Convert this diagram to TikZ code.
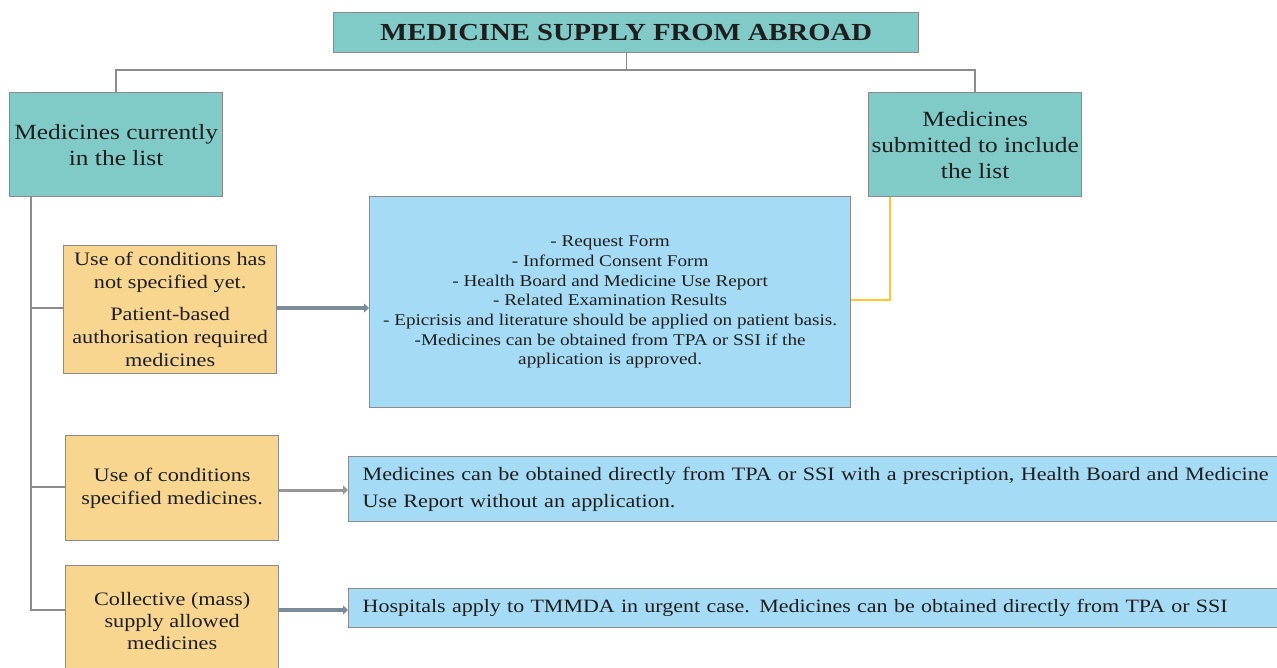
\documentclass[tikz,border=0pt]{standalone}
\usepackage{fontspec}
\setmainfont{Liberation Serif}[FakeStretch=1.17]
\usetikzlibrary{arrows.meta}
\definecolor{teal1}{HTML}{80CBC8}
\definecolor{yel1}{HTML}{F8D690}
\definecolor{blu1}{HTML}{A5DBF5}
\definecolor{edge1}{HTML}{8C8C8C}
\definecolor{arr1}{HTML}{7A8C99}
\definecolor{gold1}{HTML}{FFC72C}
\definecolor{txt1}{HTML}{1E1E1E}
\begin{document}
\begin{tikzpicture}[x=1pt,y=-1pt,
  box/.style={draw=edge1,line width=1.3pt,anchor=north west,inner sep=0pt,align=center,text=txt1},
  tealbox/.style={box,fill=teal1},
  yelbox/.style={box,fill=yel1},
  blubox/.style={box,fill=blu1},
  conn/.style={draw=edge1,line width=1.3pt},
  arrw/.style={draw=arr1,line width=3.5pt,-{Triangle[length=5pt,width=9pt]}}]
\useasboundingbox (0,0) rectangle (1277,668);
% title
\node[tealbox,minimum width=585pt,minimum height=40pt,font=\fontsize{24.5}{30}\selectfont\bfseries] (title) at (333,12) {MEDICINE SUPPLY FROM ABROAD};
\node[tealbox,minimum width=213pt,minimum height=104pt,font=\fontsize{21.7}{26}\selectfont] (cur) at (9,92) {Medicines currently\\in the list};
\node[tealbox,minimum width=213pt,minimum height=104pt,font=\fontsize{21.7}{26}\selectfont] (sub) at (868,92) {Medicines\\submitted to include\\the list};
% yellow boxes
\node[yelbox,minimum width=213pt,minimum height=128pt,font=\fontsize{19}{23}\selectfont] (y1) at (63,245) {Use of conditions has\\not specified yet.\\[9pt]Patient-based\\authorisation required\\medicines};
\node[yelbox,minimum width=213pt,minimum height=105pt,font=\fontsize{19}{23}\selectfont] (y2) at (65,435) {Use of conditions\\specified medicines.};
\node[yelbox,minimum width=213pt,minimum height=110pt,font=\fontsize{19}{22}\selectfont] (y3) at (65,565) {Collective (mass)\\supply allowed\\medicines};
% blue boxes
\node[blubox,minimum width=481pt,minimum height=211pt,font=\fontsize{16.4}{19.7}\selectfont] (b1) at (369,196) {- Request Form\\- Informed Consent Form\\- Health Board and Medicine Use Report\\- Related Examination Results\\- Epicrisis and literature should be applied on patient basis.\\-Medicines can be obtained from TPA or SSI if the\\application is approved.};
\node[blubox,minimum width=940pt,minimum height=65pt,align=left,text width=912pt,inner xsep=14pt,font=\fontsize{18.95}{27}\selectfont] (b2) at (348,456) {Medicines can be obtained directly from TPA or SSI with a prescription, Health Board and Medicine\\Use Report without an application.};
\node[blubox,minimum width=940pt,minimum height=39pt,align=left,text width=912pt,inner xsep=14pt,font=\fontsize{18.8}{22}\selectfont] (b3) at (348,588) {Hospitals apply to TMMDA in urgent case. Medicines can be obtained directly from TPA or SSI};
% tree connectors
\coordinate (j0) at (title.south |- 0,70);
\draw[conn] (title.south) -- (j0);
\draw[conn] (cur.north -| 116,0) |- (j0) -| (sub.north -| 975,0);
\coordinate (sp) at (31,610);
\draw[conn] (cur.south -| sp) -- (sp) -- (y3.west |- sp);
\draw[conn] (31,308) -- (y1.west |- 0,308);
\draw[conn] (31,487) -- (y2.west |- 0,487);
% arrows
\draw[arrw] (y1.east |- 0,308) -- (b1.west |- 0,308);
\draw[arrw,draw=edge1!90!white,line width=3pt] (y2.east |- 0,490) -- (b2.west |- 0,490);
\draw[arrw] (y3.east |- 0,610) -- (b3.west |- 0,610);
% gold connector
\draw[draw=gold1,line width=1.5pt] (sub.south -| 890,0) |- (b1.east |- 0,300);
\end{tikzpicture}
\end{document}
